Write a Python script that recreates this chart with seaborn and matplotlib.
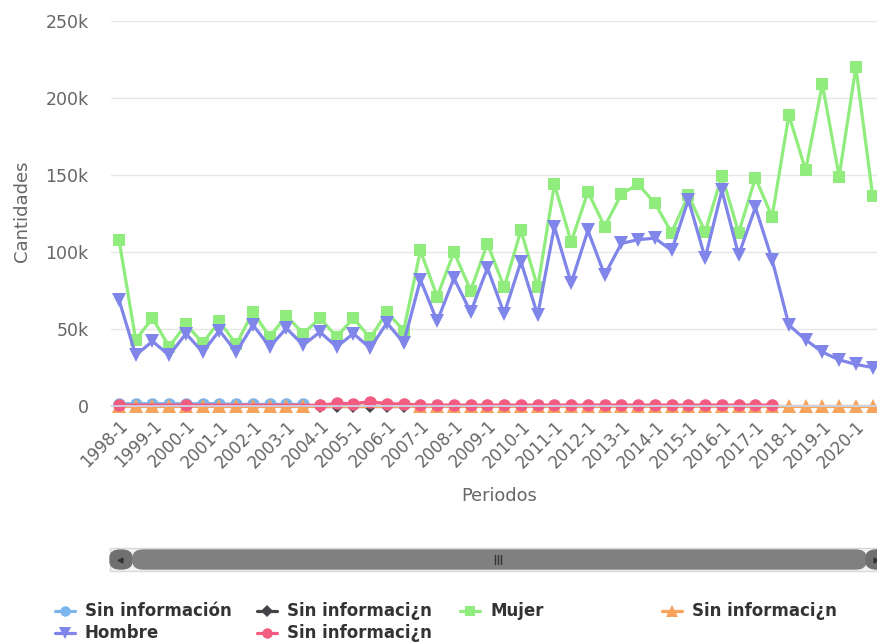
import numpy as np
import pandas as pd
import matplotlib
matplotlib.use("Agg")
import matplotlib.pyplot as plt
import seaborn as sns
from matplotlib.patches import FancyBboxPatch, Rectangle
from matplotlib.lines import Line2D
from matplotlib.ticker import FuncFormatter

sns.set_theme(style="white")
plt.rcParams['font.family'] = ['DejaVu Sans']

periodos = ["1998-1", "1998-2", "1999-1", "1999-2", "2000-1", "2000-2", "2001-1", "2001-2",
            "2002-1", "2002-2", "2003-1", "2003-2", "2004-1", "2004-2", "2005-1", "2005-2",
            "2006-1", "2006-2", "2007-1", "2007-2", "2008-1", "2008-2", "2009-1", "2009-2",
            "2010-1", "2010-2", "2011-1", "2011-2", "2012-1", "2012-2", "2013-1", "2013-2",
            "2014-1", "2014-2", "2015-1", "2015-2", "2016-1", "2016-2", "2017-1", "2017-2",
            "2018-1", "2018-2", "2019-1", "2019-2", "2020-1", "2020-2"]

N = None
sin_info_azul = [1500, 1500, 1500, 1500, 1500, 1500, 1500, 1000, 1000, 1000, 1000, 1000,
                 N, N, N, N, N, N, N, N, N, N, N, N, N, N, N, N, N, N, N, N, N, N, N, N,
                 N, N, N, N, N, N, N, N, N, N]
sin_info_negro = [N, N, N, N, N, N, N, N, N, N, N, N, 0, 0, 0, 0, 0, 0,
                  N, N, N, N, N, N, N, N, N, N, N, N, N, N, N, N, N, N, N, N, N, N,
                  N, N, N, N, N, N]
mujer = [108000, 43000, 57000, 38500, 53000, 41000, 55000, 40000, 61000, 45000, 58600, 47000,
         57000, 45000, 57000, 44000, 61000, 49000, 101000, 71000, 100000, 75000, 105500, 77000,
         114000, 77000, 144000, 106500, 139000, 116500, 137700, 144000, 131600, 112600, 137000, 113000,
         149600, 112600, 148000, 123000, 189000, 153000, 209000, 149000, 220000, 136600]
sin_info_naranja = [0, 0, 0, 0, 0, 0, 0, 0, 0, 0, 0, 0, N, N, N, N, N, N,
                    0, 0, 0, 0, 0, 0, 0, 0, 0, 0, 0, 0, 0, 0, 0, 0, 0, 0, 0, 0, 0, 0,
                    0, 0, 0, 0, 0, 0]
hombre = [69000, 33000, 42000, 33000, 47000, 35000, 49000, 35000, 52600, 38500, 50400, 39600,
          48000, 38500, 47000, 37600, 54000, 41000, 82000, 55000, 83000, 61000, 89600, 60000,
          93700, 59000, 116500, 79800, 114000, 85000, 105600, 108000, 109000, 101000, 134000, 96000,
          140000, 98000, 129000, 95000, 52600, 43000, 35000, 30000, 27000, 25000]
sin_info_rosa = [600, N, N, N, 600, N, N, N, N, N, N, N, 500, 1700, 1500, 2800, 1500, 1300,
                 600, 600, 600, 600, 600, 600, 600, 600, 600, 600, 600, 600, 600, 600, 600, 600,
                 600, 600, 600, 600, 600, 600, N, N, N, N, N, N]

series = [
    ("Sin información", sin_info_azul, "#7cb5ec", "o"),
    ("Sin informaci¿n", sin_info_negro, "#434348", "D"),
    ("Mujer", mujer, "#90ed7d", "s"),
    ("Sin informaci¿n ", sin_info_naranja, "#f7a35c", "^"),
    ("Hombre", hombre, "#8085e9", "v"),
    ("Sin informaci¿n  ", sin_info_rosa, "#f15c80", "o"),
]

W, H = 877, 644
fig = plt.figure(figsize=(W / 100, H / 100), dpi=100)
fig.patch.set_facecolor("white")

def fx(px):
    return px / W

def fy(py):
    return (H - py) / H

left_px, right_px, top_px, bottom_px = 110.6, 881.0, 21.0, 406.0
ax = fig.add_axes([fx(left_px), fy(bottom_px), fx(right_px - left_px), (bottom_px - top_px) / H])
ax.set_facecolor("white")

idx = np.arange(len(periodos))
msizes = {"o": 9.0, "D": 7.5, "s": 8.8, "^": 9.5, "v": 9.5}
for name, vals, color, mk in series:
    df = pd.DataFrame({"x": idx, "y": pd.array(vals, dtype="Float64").astype(float)})
    df = df.dropna()
    sns.lineplot(data=df, x="x", y="y", ax=ax, color=color, lw=2.3, marker=mk,
                 markersize=msizes[mk], markeredgewidth=0, sort=False, clip_on=False,
                 legend=False)

ax.set_xlim(-0.5, len(periodos) - 0.5)
ax.set_ylim(0, 250000)
ax.set_yticks([0, 50000, 100000, 150000, 200000, 250000])
ax.yaxis.set_major_formatter(FuncFormatter(lambda v, p: "0" if v == 0 else f"{int(v/1000)}k"))
ax.grid(axis="y", color="#e6e6e6", lw=1)
ax.grid(axis="x", visible=False)
for s in ["top", "right", "left"]:
    ax.spines[s].set_visible(False)
ax.spines["bottom"].set_color("#ccd6eb")
ax.set_axisbelow(True)

ax.set_xticks(idx[::2])
ax.set_xticklabels(periodos[::2], rotation=45, ha="right", rotation_mode="anchor",
                   fontsize=12, color="#666666")
ax.tick_params(axis="x", length=0, pad=8)
ax.tick_params(axis="y", length=0, pad=16, labelsize=12.5, labelcolor="#666666")
ax.set_xlabel("")
ax.set_ylabel("")

fig.text(fx(22), fy(211), "Cantidades", rotation=90, ha="center", va="center",
         fontsize=13, color="#666666")
fig.text(fx(499), fy(496), "Periodos", ha="center", va="center", fontsize=12.8, color="#666666")

# Scrollbar
track = Rectangle((fx(110), fy(571)), fx(900 - 110), (571 - 548) / H, transform=fig.transFigure,
                  facecolor="#f2f2f2", edgecolor="#d9d9d9", lw=1)
fig.add_artist(track)
bar = FancyBboxPatch((fx(133), fy(569)), fx(866 - 133), (569 - 550) / H,
                     boxstyle="round,pad=0,rounding_size=0.012", transform=fig.transFigure,
                     facecolor="#808080", edgecolor="#808080", lw=1, mutation_aspect=1)
fig.add_artist(bar)
lbtn = FancyBboxPatch((fx(110), fy(569)), fx(22), (569 - 550) / H,
                      boxstyle="round,pad=0,rounding_size=0.012", transform=fig.transFigure,
                      facecolor="#707070", edgecolor="#707070", lw=1)
fig.add_artist(lbtn)
rbtn = FancyBboxPatch((fx(866), fy(569)), fx(22), (569 - 550) / H,
                      boxstyle="round,pad=0,rounding_size=0.012", transform=fig.transFigure,
                      facecolor="#707070", edgecolor="#707070", lw=1)
fig.add_artist(rbtn)
fig.add_artist(Line2D([fx(120)], [fy(559.5)], marker="<", markersize=3.5, color="#333333",
                      transform=fig.transFigure, lw=0))
fig.add_artist(Line2D([fx(876)], [fy(559.5)], marker=">", markersize=3.5, color="#333333",
                      transform=fig.transFigure, lw=0))
for dx in (-3, 0, 3):
    fig.add_artist(Line2D([fx(498 + dx), fx(498 + dx)], [fy(555), fy(564)], color="#333333",
                          lw=1, transform=fig.transFigure))

# Legend (manual, Highcharts-like grid)
legend_pos = [(65, 611), (267, 611), (470, 611), (672, 611), (65, 633), (267, 633)]
legend_order = [0, 1, 2, 3, 4, 5]
lsizes = {"o": 7.5, "D": 6.2, "s": 7.2, "^": 8.0, "v": 8.0}
for (lx, ly), si in zip(legend_pos, legend_order):
    name, vals, color, mk = series[si]
    fig.add_artist(Line2D([fx(lx - 10), fx(lx + 10)], [fy(ly), fy(ly)], color=color, lw=2.3,
                          transform=fig.transFigure))
    fig.add_artist(Line2D([fx(lx)], [fy(ly)], color=color, marker=mk, markersize=lsizes[mk],
                          markeredgewidth=0, lw=0, transform=fig.transFigure))
    fig.text(fx(lx + 20), fy(ly), name.strip(), ha="left", va="center", fontsize=12,
             fontweight="bold", color="#333333")

fig.savefig("out.png", dpi=100)
